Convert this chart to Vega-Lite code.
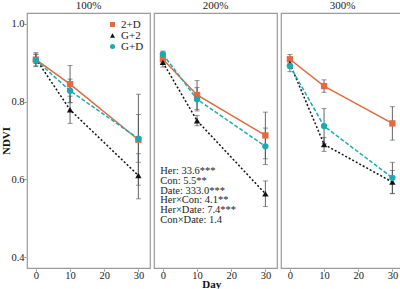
{
  "$schema": "https://vega.github.io/schema/vega-lite/v6.json",
  "padding": {"left": 0, "top": 0, "right": 0, "bottom": 0},
  "background": "white",
  "title": {"text": "Day", "orient": "bottom", "anchor": "middle", "dx": 9, "font": "Liberation Serif", "fontSize": 11, "fontWeight": "bold", "color": "#111", "offset": -2},
  "data": {"values": [
    {"kind": "obs", "panel": "100%", "group": "2+D", "day": 0, "ndvi": 0.908, "lo": 0.890, "hi": 0.926},
    {"kind": "obs", "panel": "100%", "group": "2+D", "day": 10, "ndvi": 0.845, "lo": 0.797, "hi": 0.893},
    {"kind": "obs", "panel": "100%", "group": "2+D", "day": 30, "ndvi": 0.702, "lo": 0.585, "hi": 0.819},
    {"kind": "obs", "panel": "100%", "group": "G+2", "day": 0, "ndvi": 0.910, "lo": 0.898, "hi": 0.922},
    {"kind": "obs", "panel": "100%", "group": "G+2", "day": 10, "ndvi": 0.779, "lo": 0.744, "hi": 0.814},
    {"kind": "obs", "panel": "100%", "group": "G+2", "day": 30, "ndvi": 0.610, "lo": 0.550, "hi": 0.666},
    {"kind": "obs", "panel": "100%", "group": "G+D", "day": 0, "ndvi": 0.907, "lo": 0.892, "hi": 0.922},
    {"kind": "obs", "panel": "100%", "group": "G+D", "day": 10, "ndvi": 0.828, "lo": 0.798, "hi": 0.858},
    {"kind": "obs", "panel": "100%", "group": "G+D", "day": 30, "ndvi": 0.705, "lo": 0.644, "hi": 0.767},
    {"kind": "obs", "panel": "200%", "group": "2+D", "day": 0, "ndvi": 0.909, "lo": 0.899, "hi": 0.919},
    {"kind": "obs", "panel": "200%", "group": "2+D", "day": 10, "ndvi": 0.817, "lo": 0.780, "hi": 0.854},
    {"kind": "obs", "panel": "200%", "group": "2+D", "day": 30, "ndvi": 0.713, "lo": 0.653, "hi": 0.773},
    {"kind": "obs", "panel": "200%", "group": "G+2", "day": 0, "ndvi": 0.901, "lo": 0.889, "hi": 0.913},
    {"kind": "obs", "panel": "200%", "group": "G+2", "day": 10, "ndvi": 0.751, "lo": 0.738, "hi": 0.764},
    {"kind": "obs", "panel": "200%", "group": "G+2", "day": 30, "ndvi": 0.563, "lo": 0.530, "hi": 0.596},
    {"kind": "obs", "panel": "200%", "group": "G+D", "day": 0, "ndvi": 0.922, "lo": 0.914, "hi": 0.930},
    {"kind": "obs", "panel": "200%", "group": "G+D", "day": 10, "ndvi": 0.806, "lo": 0.776, "hi": 0.836},
    {"kind": "obs", "panel": "200%", "group": "G+D", "day": 30, "ndvi": 0.685, "lo": 0.638, "hi": 0.732},
    {"kind": "obs", "panel": "300%", "group": "2+D", "day": 0, "ndvi": 0.909, "lo": 0.897, "hi": 0.921},
    {"kind": "obs", "panel": "300%", "group": "2+D", "day": 10, "ndvi": 0.840, "lo": 0.824, "hi": 0.856},
    {"kind": "obs", "panel": "300%", "group": "2+D", "day": 30, "ndvi": 0.744, "lo": 0.701, "hi": 0.787},
    {"kind": "obs", "panel": "300%", "group": "G+2", "day": 0, "ndvi": 0.898, "lo": 0.886, "hi": 0.910},
    {"kind": "obs", "panel": "300%", "group": "G+2", "day": 10, "ndvi": 0.690, "lo": 0.672, "hi": 0.708},
    {"kind": "obs", "panel": "300%", "group": "G+2", "day": 30, "ndvi": 0.593, "lo": 0.563, "hi": 0.623},
    {"kind": "obs", "panel": "300%", "group": "G+D", "day": 0, "ndvi": 0.892, "lo": 0.877, "hi": 0.907},
    {"kind": "obs", "panel": "300%", "group": "G+D", "day": 10, "ndvi": 0.737, "lo": 0.692, "hi": 0.782},
    {"kind": "obs", "panel": "300%", "group": "G+D", "day": 30, "ndvi": 0.604, "lo": 0.564, "hi": 0.644},
    {"kind": "note", "panel": "200%", "label": "Her: 33.6***\nCon: 5.5**\nDate: 333.0***\nHer×Con: 4.1**\nHer×Date: 7.4***\nCon×Date: 1.4"}
  ]},
  "facet": {
    "column": {
      "field": "panel", "type": "nominal", "sort": ["100%", "200%", "300%"],
      "title": null,
      "header": {"labelFont": "Liberation Serif", "labelFontSize": 11, "labelColor": "#222", "labelPadding": 1}
    }
  },
  "spacing": 2,
  "spec": {
    "width": 123,
    "height": 255,
    "layer": [
      {
        "transform": [{"filter": "datum.kind === 'obs'"}],
        "mark": {"type": "rule", "color": "#555", "strokeWidth": 0.9},
        "encoding": {
          "x": {"field": "day", "type": "quantitative", "title": null,
            "scale": {"domain": [-2.6, 33.4], "nice": false, "zero": false}, "axis": {"values": [0, 10, 20, 30]}},
          "y": {"field": "lo", "type": "quantitative", "title": "NDVI",
            "scale": {"domain": [0.372, 1.028], "nice": false, "zero": false}, "axis": {"values": [0.4, 0.6, 0.8, 1.0], "format": ".1f"}},
          "y2": {"field": "hi"}
        }
      },
      {
        "transform": [{"filter": "datum.kind === 'obs'"}],
        "mark": {"type": "tick", "color": "#555", "size": 5, "thickness": 0.9, "orient": "horizontal"},
        "encoding": {
          "x": {"field": "day", "type": "quantitative"},
          "y": {"field": "lo", "type": "quantitative"}
        }
      },
      {
        "transform": [{"filter": "datum.kind === 'obs'"}],
        "mark": {"type": "tick", "color": "#555", "size": 5, "thickness": 0.9, "orient": "horizontal"},
        "encoding": {
          "x": {"field": "day", "type": "quantitative"},
          "y": {"field": "hi", "type": "quantitative"}
        }
      },
      {
        "transform": [{"filter": "datum.kind === 'obs' && datum.group === '2+D'"}],
        "mark": {"type": "line", "strokeWidth": 1.5, "color": "#E4693F"},
        "encoding": {
          "x": {"field": "day", "type": "quantitative"},
          "y": {"field": "ndvi", "type": "quantitative"}
        }
      },
      {
        "transform": [{"filter": "datum.kind === 'obs' && datum.group === 'G+2'"}],
        "mark": {"type": "line", "strokeWidth": 1.5, "color": "#111111", "strokeDash": [2, 2]},
        "encoding": {
          "x": {"field": "day", "type": "quantitative"},
          "y": {"field": "ndvi", "type": "quantitative"}
        }
      },
      {
        "transform": [{"filter": "datum.kind === 'obs' && datum.group === 'G+D'"}],
        "mark": {"type": "line", "strokeWidth": 1.5, "color": "#1AABB0", "strokeDash": [4, 2]},
        "encoding": {
          "x": {"field": "day", "type": "quantitative"},
          "y": {"field": "ndvi", "type": "quantitative"}
        }
      },
      {
        "transform": [{"filter": "datum.kind === 'obs'"}],
        "mark": {"type": "point", "filled": true, "opacity": 1, "size": 40},
        "encoding": {
          "x": {"field": "day", "type": "quantitative"},
          "y": {"field": "ndvi", "type": "quantitative"},
          "color": {"field": "group", "type": "nominal",
            "scale": {"domain": ["2+D", "G+2", "G+D"], "range": ["#E4693F", "#111111", "#1AABB0"]}},
          "shape": {"field": "group", "type": "nominal",
            "scale": {"domain": ["2+D", "G+2", "G+D"], "range": ["square", "triangle-up", "circle"]}}
        }
      },
      {
        "transform": [{"filter": "datum.kind === 'note'"}],
        "mark": {"type": "text", "align": "left", "baseline": "top", "lineBreak": "\n", "lineHeight": 9.7,
          "font": "Liberation Serif", "fontSize": 10.5, "color": "#222"},
        "encoding": {
          "x": {"datum": -0.8, "type": "quantitative"},
          "y": {"datum": 0.634, "type": "quantitative"},
          "text": {"field": "label"}
        }
      }
    ]
  },
  "resolve": {"scale": {"x": "shared", "y": "shared"}},
  "config": {
    "view": {"stroke": "#9a9a9a", "strokeWidth": 1.2},
    "axis": {"grid": false, "domain": false, "labelFont": "Liberation Serif", "labelFontSize": 10.5, "labelColor": "#222",
      "tickColor": "#888", "tickSize": 2, "titleFont": "Liberation Serif", "titleFontSize": 11, "titleFontWeight": "bold", "titleColor": "#111"},
    "axisX": {"labelPadding": -1, "titlePadding": 0},
    "axisY": {"labelPadding": 0, "titlePadding": -1},
    "legend": {"orient": "none", "legendX": 80, "legendY": 6, "title": null, "labelFont": "Liberation Serif", "labelFontSize": 11,
      "labelColor": "#222", "symbolSize": 25, "rowPadding": -3, "labelOffset": 3, "padding": 0}
  }
}
